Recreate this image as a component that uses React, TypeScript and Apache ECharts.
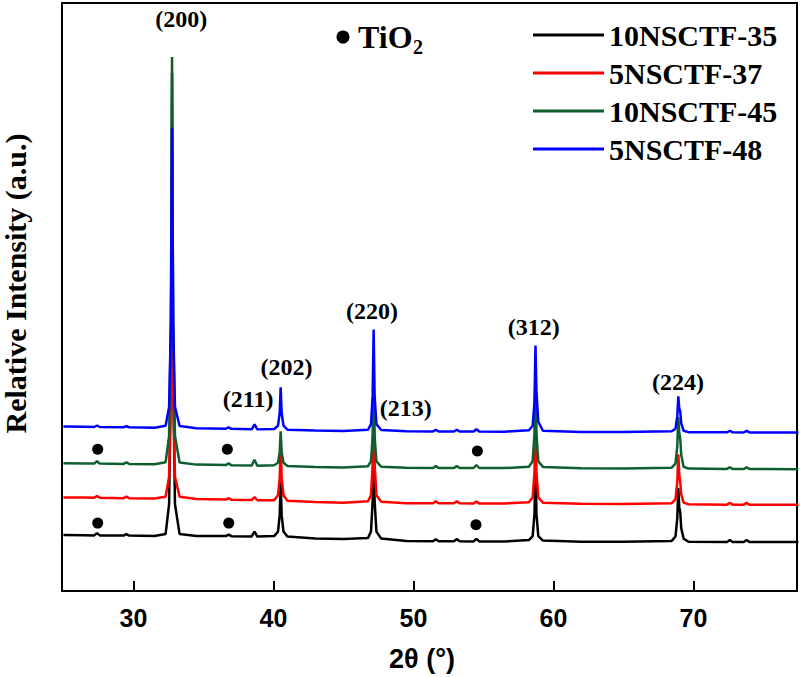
import React, { useEffect, useRef } from "react";
import * as echarts from "echarts";

// 2θ sample positions (deg), shared by all patterns
const X = [
  25.0, 26.5, 27.2, 27.4, 27.6, 29.3, 29.5, 29.7, 31.5, 32.3,
  32.55, 32.68, 32.76, 32.84, 32.97, 33.3, 34.5, 36.6, 36.8, 37.0,
  38.45, 38.65, 38.85, 40.05, 40.33, 40.45, 40.52, 40.59, 40.72, 41.0,
  43.0, 45.0, 46.75, 46.97, 47.09, 47.16, 47.23, 47.36, 47.7, 49.5,
  51.4, 51.6, 51.8, 52.9, 53.1, 53.3, 54.3, 54.5, 54.7, 56.5,
  58.25, 58.52, 58.65, 58.72, 58.79, 58.92, 59.25, 62.0, 65.0, 68.45,
  68.72, 68.85, 68.92, 68.99, 69.06, 69.13, 69.3, 69.65, 72.4, 72.6,
  72.8, 73.6, 73.8, 74.0, 77.5,
];

// Relative intensity (offset, a.u.)
const BLACK_35 = [
  56.0, 55.8, 55.7, 58.0, 55.7, 55.5, 57.0, 55.5, 55.2, 57.0,
  87, 217, 519, 217, 87, 57, 55.1, 55.0, 56.5, 54.9,
  54.6, 59.5, 54.5, 55.0, 59.5, 76, 109, 76, 59.5, 54.5,
  52.7, 52.0, 53.0, 59.5, 90, 161.5, 90, 59.5, 52.5, 50.2,
  49.9, 51.8, 49.9, 49.8, 52.0, 49.8, 49.7, 52.2, 49.7, 49.6,
  51.0, 55, 77.5, 129.5, 77.5, 55, 50.5, 49.4, 49.3, 50.2,
  54.6, 73, 103, 84, 79, 63, 52.5, 49.4, 49.1, 51.0,
  49.1, 49.0, 51.0, 49.0, 49.0,
];

const RED_37 = [
  93.7, 93.6, 93.5, 95.0, 93.5, 93.0, 94.5, 93.0, 92.7, 94.5,
  114.5, 201.5, 405, 201.5, 114.5, 94.5, 92.2, 91.6, 93.0, 91.5,
  91.1, 94.0, 91.0, 91.0, 96, 113, 147, 113, 96, 90.5,
  89.2, 88.5, 89.8, 95.9, 126.7, 198.2, 126.7, 95.9, 89.5, 88.0,
  87.9, 89.8, 87.9, 87.8, 89.8, 87.8, 87.7, 89.7, 87.7, 87.6,
  89.0, 93.8, 119, 177.5, 119, 93.8, 88.5, 87.3, 87.1, 88.0,
  91.8, 109.3, 136.8, 116.8, 108.8, 96.8, 88.5, 86.9, 86.5, 88.3,
  86.5, 86.5, 88.3, 86.4, 86.3,
];

const GREEN_45 = [
  128.0, 127.8, 127.6, 130.0, 127.6, 127.3, 128.8, 127.3, 127.0, 129.0,
  155.3, 269.6, 535, 269.6, 155.3, 128.8, 126.6, 126.1, 127.8, 126.0,
  125.6, 131.5, 125.5, 126.0, 128.5, 139, 160, 139, 128.5, 125.3,
  124.2, 123.7, 125.0, 129.8, 155, 213.5, 155, 129.8, 124.5, 123.4,
  123.3, 125.3, 123.3, 123.2, 125.2, 123.2, 123.2, 126.2, 123.2, 123.1,
  124.5, 130, 158, 223, 158, 130, 124.3, 122.9, 122.7, 123.5,
  127.5, 145.5, 174, 158.5, 152.5, 136.5, 124.5, 122.6, 122.3, 124.0,
  122.3, 122.2, 123.8, 122.2, 122.0,
];

const BLUE_48 = [
  164.7, 164.5, 164.3, 165.8, 164.3, 164.0, 165.0, 164.0, 163.6, 165.5,
  184.4, 268.4, 464, 268.4, 184.4, 165.2, 163.1, 162.6, 164.0, 162.5,
  162.0, 167.0, 161.9, 162.3, 165.6, 178.3, 204, 178.3, 165.6, 161.6,
  160.7, 160.3, 161.5, 167, 195.7, 262, 195.7, 167, 161.2, 159.9,
  159.8, 161.5, 159.8, 159.7, 161.5, 159.7, 159.7, 162.0, 159.7, 159.6,
  161.0, 165.5, 189.5, 246, 200, 169.5, 160.5, 159.3, 159.2, 160.0,
  162.6, 175, 195, 183, 180, 168, 160.5, 159.1, 158.9, 160.5,
  158.9, 158.8, 160.3, 158.8, 158.7,
];

const SERIES_NAMES = ["10NSCTF-35", "5NSCTF-37", "10NSCTF-45", "5NSCTF-48"];
const SERIES_VALUES = [BLACK_35, RED_37, GREEN_45, BLUE_48];
const SERIES_COLORS = ["#000000", "#ff0000", "#0e5e2e", "#0000ff"];

// Miller-index annotations (data coords)
const HKL_LABELS = ["(200)", "(211)", "(202)", "(220)", "(213)", "(312)", "(224)"];
const HKL_X = [33.41, 38.19, 40.94, 47.05, 49.46, 58.59, 68.9];
const HKL_Y = [573, 192, 224, 280, 183, 264, 209];

// TiO2 reflection markers
const TIO2_X = [27.45, 36.71, 54.57, 27.45, 36.81, 54.47];
const TIO2_Y = [142, 142, 140.3, 68, 68, 66.3];

const X_TICKS = [30, 40, 50, 60, 70];

const SERIF = "'Liberation Serif', 'Times New Roman', serif";
const SANS = "'Liberation Sans', Arial, sans-serif";

export default function App() {
  const ref = useRef<HTMLDivElement>(null);

  useEffect(() => {
    if (!ref.current) return;
    const chart = echarts.init(ref.current, undefined, { renderer: "svg" });

    const lineSeries = SERIES_NAMES.map((name, k) => ({
      name,
      type: "line",
      data: X.map((x, i) => [x, SERIES_VALUES[k][i]]),
      symbol: "none",
      showSymbol: false,
      lineStyle: { color: SERIES_COLORS[k], width: 2.5 },
      itemStyle: { color: SERIES_COLORS[k] },
      z: 2 + k,
      emphasis: { disabled: true },
      silent: true,
    }));

    const staticGraphics: any[] = [
      {
        type: "text",
        x: 15,
        y: 283.5,
        rotation: Math.PI / 2,
        style: {
          text: "Relative Intensity (a.u.)",
          font: `bold 30px ${SERIF}`,
          fill: "#000",
          align: "center",
          verticalAlign: "middle",
        },
      },
      {
        type: "circle",
        shape: { cx: 343, cy: 37, r: 6.5 },
        style: { fill: "#000" },
      },
      {
        type: "text",
        x: 358,
        y: 37,
        style: {
          text: "TiO",
          font: `bold 32px ${SERIF}`,
          fill: "#000",
          align: "left",
          verticalAlign: "middle",
        },
      },
      {
        type: "text",
        x: 413,
        y: 47,
        style: {
          text: "2",
          font: `bold 20px ${SERIF}`,
          fill: "#000",
          align: "left",
          verticalAlign: "middle",
        },
      },
    ];

    const option: any = {
      animation: false,
      backgroundColor: "#ffffff",
      grid: {
        left: 62,
        right: 3,
        top: 3,
        bottom: 85,
        show: true,
        borderColor: "#000",
        borderWidth: 2,
        backgroundColor: "transparent",
      },
      legend: {
        data: SERIES_NAMES,
        orient: "vertical",
        left: 528,
        top: 15,
        itemWidth: 71,
        itemHeight: 3,
        itemGap: 8,
        icon: "rect",
        selectedMode: false,
        textStyle: {
          fontFamily: SERIF,
          fontWeight: "bold",
          fontSize: 30,
          lineHeight: 30,
          color: "#000",
        },
      },
      xAxis: {
        type: "value",
        min: 24.9,
        max: 77.4,
        name: "2θ (°)",
        nameLocation: "middle",
        nameGap: 54,
        nameTextStyle: {
          fontFamily: SANS,
          fontSize: 27,
          fontWeight: "bold",
          color: "#000",
          padding: [0, 15, 0, 0],
        },
        axisLine: { show: true, lineStyle: { color: "#000", width: 2 } },
        axisTick: {
          show: true,
          inside: true,
          length: 10,
          customValues: X_TICKS,
          lineStyle: { color: "#000", width: 2 },
        },
        axisLabel: {
          show: true,
          customValues: X_TICKS,
          margin: 14,
          fontFamily: SANS,
          fontSize: 25,
          fontWeight: "bold",
          color: "#000",
        },
        splitLine: { show: false },
      },
      yAxis: {
        type: "value",
        min: 0,
        max: 589,
        axisLine: { show: true, lineStyle: { color: "#000", width: 2 } },
        axisTick: { show: false },
        axisLabel: { show: false },
        splitLine: { show: false },
      },
      graphic: staticGraphics,
      series: [
        ...lineSeries,
        {
          name: "TiO2",
          type: "scatter",
          data: TIO2_X.map((x, i) => [x, TIO2_Y[i]]),
          symbol: "circle",
          symbolSize: 11,
          itemStyle: { color: "#000", opacity: 1 },
          z: 10,
          silent: true,
        },
      ],
    };

    chart.setOption(option);

    // Miller-index labels placed through the chart's own axes
    const hklGraphics = HKL_LABELS.map((t, i) => {
      const p = chart.convertToPixel({ gridIndex: 0 }, [HKL_X[i], HKL_Y[i]]) as number[];
      return {
        type: "text",
        x: p[0],
        y: p[1],
        z: 20,
        style: {
          text: t,
          font: `bold 24px ${SERIF}`,
          fill: "#000",
          align: "center",
          verticalAlign: "middle",
        },
      };
    });
    chart.setOption({ graphic: [...staticGraphics, ...hklGraphics] }, { replaceMerge: ["graphic"] });

    return () => chart.dispose();
  }, []);

  return (
    <div
      ref={ref}
      style={{ position: "absolute", left: 0, top: 0, width: 800, height: 677 }}
    />
  );
}
